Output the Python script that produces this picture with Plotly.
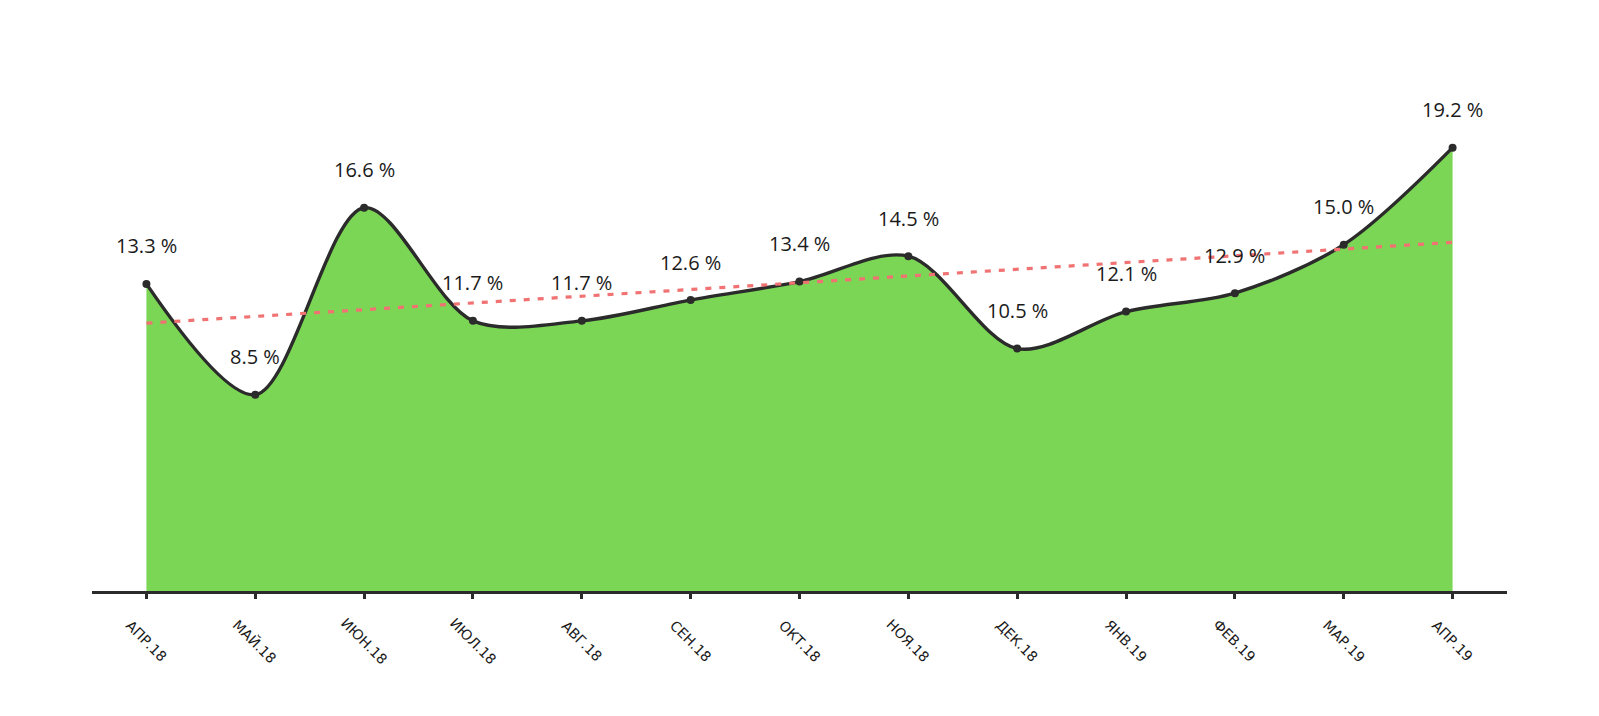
import plotly.graph_objects as go

months = ["АПР.18", "МАЙ.18", "ИЮН.18", "ИЮЛ.18", "АВГ.18", "СЕН.18", "ОКТ.18",
          "НОЯ.18", "ДЕК.18", "ЯНВ.19", "ФЕВ.19", "МАР.19", "АПР.19"]
values = [13.3, 8.5, 16.6, 11.7, 11.7, 12.6, 13.4, 14.5, 10.5, 12.1, 12.9, 15.0, 19.2]
trend_values = [11.6, 15.1]  # trend line read at first and last month

idx = list(range(len(months)))

fig = go.Figure()

fig.add_trace(go.Scatter(
    x=idx, y=values, mode="lines+markers",
    line=dict(shape="spline", smoothing=0.9, color="#2b2b2b", width=3.4),
    marker=dict(size=8, color="#2b2b2b"),
    fill="tozeroy", fillcolor="#7cd655",
    hoverinfo="skip", showlegend=False,
))

fig.add_trace(go.Scatter(
    x=[idx[0], idx[-1]], y=trend_values, mode="lines",
    line=dict(color="#f07272", width=3.2, dash="6px,8px"),
    hoverinfo="skip", showlegend=False,
))

annotations = []
for i, v in zip(idx, values):
    annotations.append(dict(
        x=i, y=v, xref="x", yref="y", text=f"{v:.1f} %", showarrow=False,
        yshift=38, font=dict(family="Open Sans", size=20, color="#1a1a1a"),
        xanchor="center", yanchor="middle",
    ))
for i, m in zip(idx, months):
    annotations.append(dict(
        x=i, y=0, xref="x", yref="y", text=m, showarrow=False,
        yshift=-50, textangle=45,
        font=dict(family="DejaVu Sans", size=14, color="#1a1a1a"),
        xanchor="center", yanchor="middle",
    ))

fig.update_layout(
    width=1599, height=716,
    margin=dict(l=84, r=100, t=75, b=133),
    paper_bgcolor="white", plot_bgcolor="white",
    annotations=annotations,
    xaxis=dict(range=[-0.5, 12.5], tickvals=idx, ticktext=[""] * len(idx),
               showgrid=False, zeroline=False, showline=True,
               linecolor="#2b2b2b", linewidth=3,
               ticks="outside", ticklen=5, tickwidth=2.5, tickcolor="#2b2b2b"),
    yaxis=dict(range=[0, 22], visible=False, showgrid=False, zeroline=False),
)

fig.write_html("out.html")
